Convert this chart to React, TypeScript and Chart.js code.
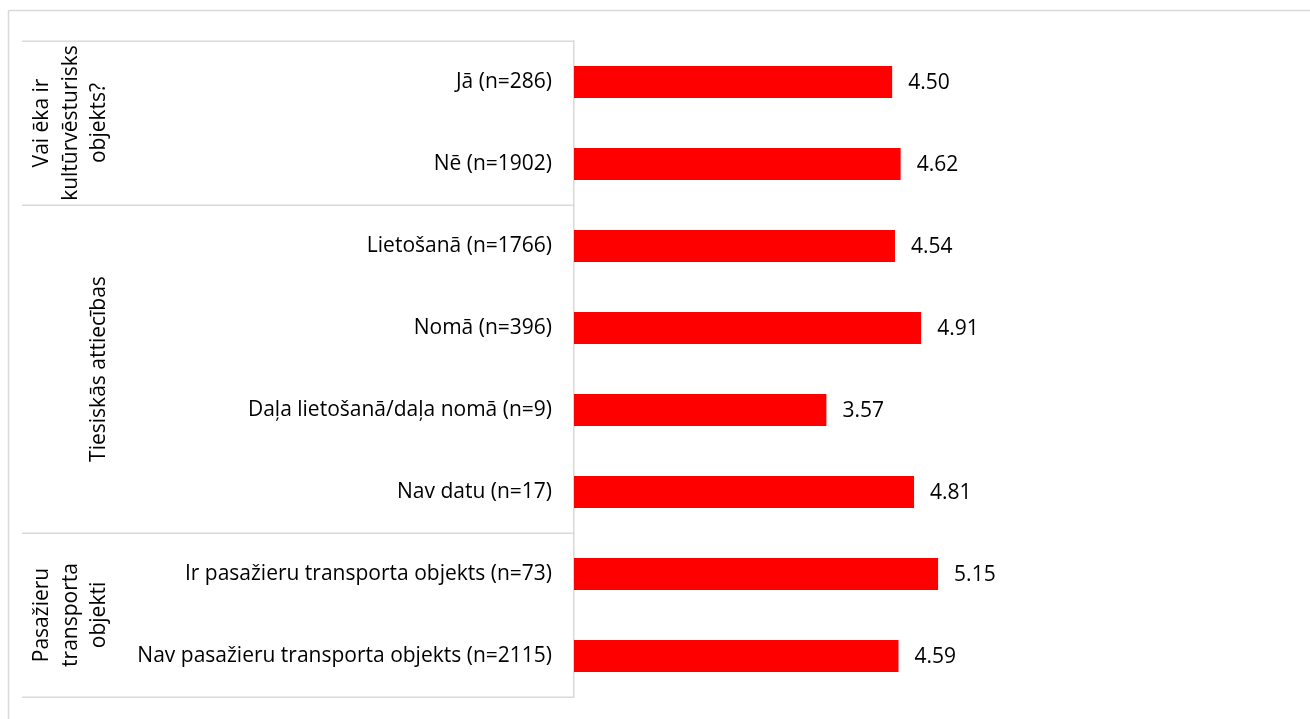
import React, { useEffect, useRef } from "react";
import { Chart, registerables } from "chart.js";

Chart.register(...registerables);

const categories = [
  "Jā (n=286)",
  "Nē (n=1902)",
  "Lietošanā (n=1766)",
  "Nomā (n=396)",
  "Daļa lietošanā/daļa nomā (n=9)",
  "Nav datu (n=17)",
  "Ir pasažieru transporta objekts (n=73)",
  "Nav pasažieru transporta objekts (n=2115)",
];
const values = [4.5, 4.62, 4.54, 4.91, 3.57, 4.81, 5.15, 4.59];
const groupNames = [
  ["Vai ēka ir", "kultūrvēsturisks", "objekts?"],
  ["Tiesiskās attiecības"],
  ["Pasažieru", "transporta", "objekti"],
];
const groupSizes = [2, 4, 2];

const FONT = "'Open Sans', 'Noto Sans', sans-serif";
const LINE = "#d9d9d9";

const decorPlugin = {
  id: "decor",
  beforeDraw(chart: any) {
    const ctx = chart.ctx;
    ctx.save();
    ctx.strokeStyle = LINE;
    ctx.lineWidth = 1.5;
    ctx.beginPath();
    ctx.moveTo(8.5, 10.5);
    ctx.lineTo(8.5, chart.height);
    ctx.moveTo(8.5, 10.5);
    ctx.lineTo(chart.width, 10.5);
    ctx.stroke();
    ctx.restore();
  },
  afterDatasetsDraw(chart: any) {
    const ctx = chart.ctx;
    const y = chart.scales.y;
    const left = chart.chartArea.left;
    const step = y.getPixelForValue(1) - y.getPixelForValue(0);
    ctx.save();
    let start = 0;
    const bounds: number[] = [];
    groupSizes.forEach((size, gi) => {
      const top = y.getPixelForValue(start) - step / 2;
      const bottom = y.getPixelForValue(start + size - 1) + step / 2;
      if (gi === 0) bounds.push(top);
      bounds.push(bottom);
      const cy = (top + bottom) / 2;
      const lines = groupNames[gi];
      const lh = 28.5;
      const lastBase = 105;
      ctx.fillStyle = "#000";
      ctx.font = `21px ${FONT}`;
      ctx.textAlign = "center";
      ctx.textBaseline = "alphabetic";
      lines.forEach((ln, li) => {
        const bx = lastBase - (lines.length - 1 - li) * lh;
        ctx.save();
        ctx.translate(bx, cy);
        ctx.rotate(-Math.PI / 2);
        ctx.fillText(ln, 0, 0);
        ctx.restore();
      });
      start += size;
    });
    ctx.strokeStyle = LINE;
    ctx.lineWidth = 1.5;
    ctx.beginPath();
    bounds.forEach((b) => {
      const yy = Math.round(b) + 0.25;
      ctx.moveTo(22, yy);
      ctx.lineTo(left, yy);
    });
    ctx.stroke();

    const meta = chart.getDatasetMeta(0);
    ctx.fillStyle = "#000";
    ctx.font = `21px ${FONT}`;
    ctx.textAlign = "left";
    ctx.textBaseline = "middle";
    meta.data.forEach((bar: any, i: number) => {
      ctx.fillText(values[i].toFixed(2), bar.x + 16, bar.y + 1);
    });
    ctx.restore();
  },
};

export default function App() {
  const ref = useRef<HTMLCanvasElement | null>(null);
  useEffect(() => {
    document.body.style.margin = "0";
    document.body.style.overflow = "hidden";
    const chart = new Chart(ref.current as HTMLCanvasElement, {
      type: "bar",
      data: {
        labels: categories,
        datasets: [
          {
            data: values,
            backgroundColor: "#ff0000",
            borderWidth: 0,
            categoryPercentage: 1,
            barPercentage: 0.39,
          },
        ],
      },
      options: {
        indexAxis: "y",
        responsive: false,
        animation: false,
        layout: { padding: { left: 0, top: 41, right: 29, bottom: 22 } },
        plugins: {
          legend: { display: false },
          tooltip: { enabled: false },
        },
        scales: {
          x: {
            min: 0,
            max: 10,
            display: false,
          },
          y: {
            grid: { display: false, drawTicks: false },
            border: { display: true, color: LINE, width: 1.5 },
            ticks: {
              color: "#000",
              padding: 22,
              font: { family: FONT, size: 21 },
            },
            afterFit(scale: any) {
              scale.width = 574;
              scale.paddingTop = 0;
              scale.paddingBottom = 0;
            },
          },
        },
      },
      plugins: [decorPlugin],
    });
    return () => chart.destroy();
  }, []);
  return (
    <div style={{ width: 1310, height: 719, position: "relative" }}>
      <canvas ref={ref} width={1310} height={719} style={{ width: 1310, height: 719, display: "block" }} />
    </div>
  );
}
